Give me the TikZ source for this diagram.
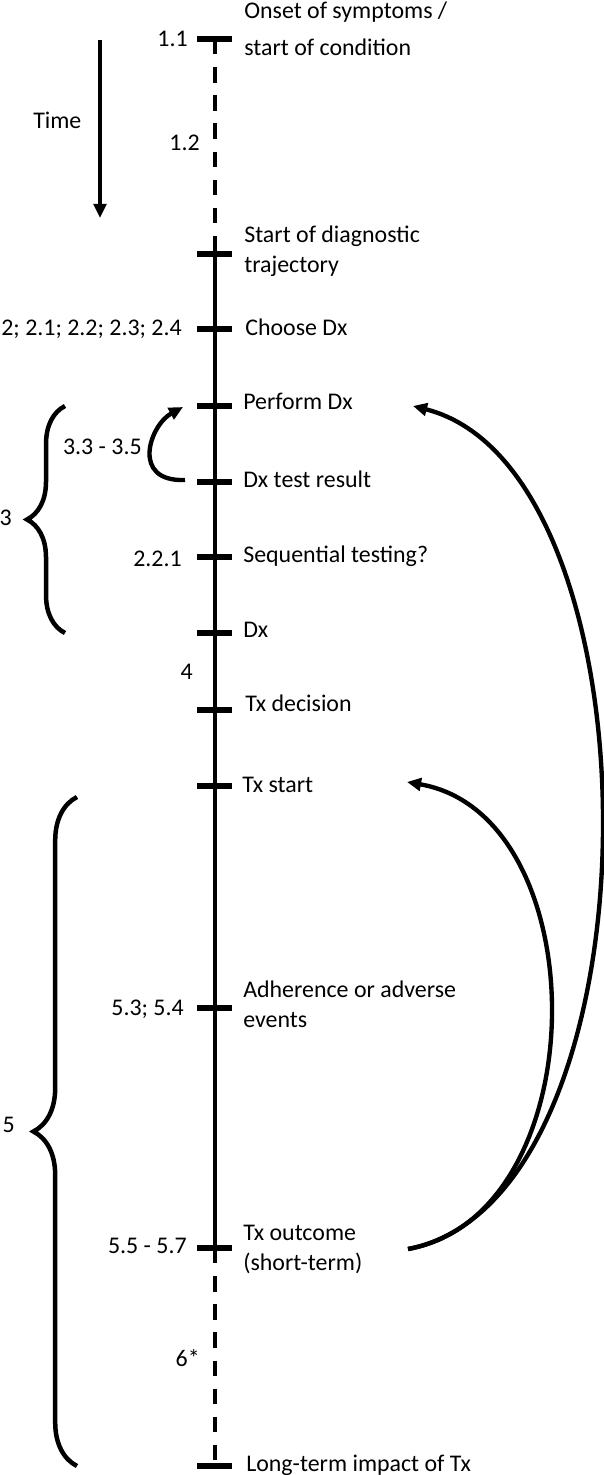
\documentclass[tikz,border=0pt]{standalone}
\usepackage{fontspec}
\setmainfont{Carlito}
\usepackage{tikz}
\usetikzlibrary{arrows.meta,decorations.pathreplacing}

\begin{document}
\begin{tikzpicture}%
        [x=0.025cm, y=0.025cm,
        axis/.style={line width=3.4pt},
        dashaxis/.style={line width=3.4pt, dash pattern=on 11pt off 9pt},
        tickmark/.style={line width=4.6pt},
        evt/.style={anchor=base west, inner sep=0pt, align=left, font=\fontsize{17}{21}\selectfont},
        sec/.style={anchor=base east, inner sep=0pt, font=\fontsize{17}{21}\selectfont},
        loopback/.style={line width=3.1pt, -{Triangle[length=10pt,width=9pt]}},
        bracegroup/.style={line width=3.2pt, decorate, decoration={brace, amplitude=#1}}]
    \useasboundingbox (0,0) rectangle (604,-1475);
    %% Time arrow
    \coordinate (t0) at (100,-40);
    \coordinate (t1) at (100,-218);
    \draw[loopback] (t0) -- (t1);
    \node[evt] (time) at (33,-128) {Time};
    %%
    %% Ticks on the time line
    %%
    \foreach \n/\y in {onset/39, diag/254, choose/329, perform/406, result/482,
                       seq/557, dx/633, txdec/710, txstart/786, adh/1008,
                       txout/1248, impact/1466}
    {
        \coordinate (\n) at (215,-\y);
        \draw[tickmark] (197,-\y) -- (232,-\y);
    }
    \draw[dashaxis] (onset) -- (diag);
    \draw[axis] (diag) -- (txout);
    \draw[dashaxis] (txout) -- (impact);
    %% Events (base = last line)
    \node[evt] (l-onset) at (244,-55) {Onset of symptoms /\\[5.3pt] start of condition};
    \node[evt] (l-diag) at (244,-272) {Start of diagnostic\\ trajectory};
    \node[evt] (l-choose) at (245,-335) {Choose Dx};
    \node[evt] (l-perform) at (243,-409) {Perform Dx};
    \node[evt] (l-result) at (243,-487) {Dx test result};
    \node[evt] (l-seq) at (243,-562) {Sequential testing?};
    \node[evt] (l-dx) at (243,-637) {Dx};
    \node[evt] (l-txdec) at (245,-711) {Tx decision};
    \node[evt] (l-txstart) at (242,-792) {Tx start};
    \node[evt] (l-adh) at (243,-1027) {Adherence or adverse\\ events};
    \node[evt] (l-txout) at (243,-1270) {Tx outcome\\ (short-term)};
    \node[evt] (l-impact) at (246,-1471) {Long-term impact of Tx};
    %% Sections
    \node[sec] (s11) at (188,-46) {1.1};
    \node[sec] (s12) at (200,-150) {1.2};
    \node[sec] (s2) at (182,-335) {2; 2.1; 2.2; 2.3; 2.4};
    \node[sec] (s33) at (142,-454) {3.3 - 3.5};
    \node[sec] (s3) at (12,-525) {3};
    \node[sec] (s221) at (182,-566) {2.2.1};
    \node[sec] (s4) at (193,-679) {4};
    \node[sec] (s53) at (184,-1015) {5.3; 5.4};
    \node[sec] (s5) at (15,-1132) {5};
    \node[sec] (s55) at (187,-1253) {5.5 - 5.7};
    \node[sec] (s6) at (200,-1366) {6*};
    %% Braces
    \draw[bracegroup=27pt] (65,-633) -- (65,-406);
    \draw[bracegroup=31pt] (77,-1466) -- (77,-797);
    %% Loops back
    \coordinate (result-l) at (185,-480);
    \coordinate (perform-l) at (183,-407);
    \draw[loopback] (result-l) .. controls (130,-482) and (150,-425) .. (perform-l);
    \coordinate (txout-r) at (408,-1249);
    \coordinate (perform-r) at (413,-406);
    \coordinate (txstart-r) at (407,-782);
    \draw[loopback] (txout-r) .. controls (665,-1200) and (665,-470) .. (perform-r);
    \draw[loopback] (txout-r) .. controls (598,-1215) and (598,-815) .. (txstart-r);
\end{tikzpicture}
\end{document}
